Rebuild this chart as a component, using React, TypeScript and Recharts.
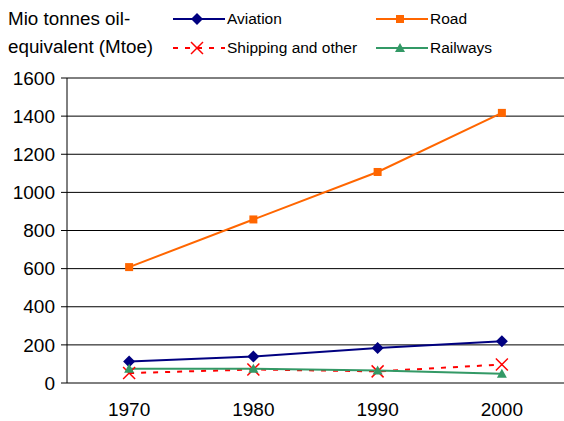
import React from "react";
import { LineChart, Line, XAxis, YAxis, CartesianGrid } from "recharts";

const years = [1970, 1980, 1990, 2000];
const aviation = [113, 139, 183, 219];
const road = [608, 858, 1107, 1417];
const shipping = [52, 71, 61, 97];
const railways = [75, 75, 66, 49];
const yTicks = [0, 200, 400, 600, 800, 1000, 1200, 1400, 1600];
const boundaryTicks = [1965, 1975, 1985, 1995, 2005];

const data = years.map((year, i) => ({
  year,
  aviation: aviation[i],
  road: road[i],
  shipping: shipping[i],
  railways: railways[i],
}));

const FONT = "Liberation Sans, Arial, sans-serif";

const series = [
  { key: "aviation", name: "Aviation", color: "#000080", shape: "diamond" },
  { key: "road", name: "Road", color: "#FF6600", shape: "square" },
  { key: "shipping", name: "Shipping and other", color: "#FF0000", shape: "cross", dash: "5 7" },
  { key: "railways", name: "Railways", color: "#339966", shape: "triangle" },
];

function Marker({ shape, color, cx, cy }: { shape: string; color: string; cx: number; cy: number }) {
  if (shape === "diamond") {
    return <polygon points={`${cx},${cy - 6} ${cx + 6},${cy} ${cx},${cy + 6} ${cx - 6},${cy}`} fill={color} />;
  }
  if (shape === "square") {
    return <rect x={cx - 4} y={cy - 4} width={8} height={8} fill={color} />;
  }
  if (shape === "triangle") {
    return <polygon points={`${cx},${cy - 5} ${cx + 5},${cy + 4} ${cx - 5},${cy + 4}`} fill={color} />;
  }
  return (
    <g stroke={color} strokeWidth={1.5}>
      <line x1={cx - 6} y1={cy - 6} x2={cx + 6} y2={cy + 6} />
      <line x1={cx - 6} y1={cy + 6} x2={cx + 6} y2={cy - 6} />
    </g>
  );
}

// legend + unit title drawn over the top of the chart
function LegendBox() {
  const item = (s: (typeof series)[number], left: number, top: number) => (
    <div key={s.key} style={{ position: "absolute", left, top, display: "flex", alignItems: "center", height: 20 }}>
      <svg width={52} height={14}>
        <line x1={0} y1={7} x2={52} y2={7} stroke={s.color} strokeWidth={2} strokeDasharray={s.dash} />
        <Marker shape={s.shape} color={s.color} cx={24} cy={7} />
      </svg>
      <span style={{ fontSize: 15.5, fontFamily: FONT, marginLeft: 2, color: "#000" }}>{s.name}</span>
    </div>
  );
  return (
    <div style={{ position: "absolute", left: 0, top: 0, width: 564, height: 60 }}>
      <div style={{ position: "absolute", left: 8, top: 5, fontSize: 18.8, lineHeight: "28px", fontFamily: FONT }}>
        Mio tonnes oil-
        <br />
        equivalent (Mtoe)
      </div>
      {item(series[0], 173, 9)}
      {item(series[1], 376, 9)}
      {item(series[2], 173, 38)}
      {item(series[3], 376, 38)}
    </div>
  );
}

export default function App() {
  return (
    <div style={{ position: "absolute", left: 0, top: 0, width: 564, height: 421, background: "#fff" }}>
      <LineChart width={564} height={421} data={data} margin={{ top: 78, right: 0, left: 10, bottom: 8 }}>
        <CartesianGrid vertical={false} stroke="#000" strokeWidth={1} />
        <XAxis
          xAxisId="b"
          dataKey="year"
          type="number"
          domain={[1965, 2005]}
          ticks={boundaryTicks}
          height={0}
          axisLine={{ stroke: "#000" }}
          tickLine={{ stroke: "#000" }}
          tickSize={6}
          tickFormatter={() => ""}
        />
        <XAxis
          dataKey="year"
          type="number"
          domain={[1965, 2005]}
          ticks={years}
          height={30}
          axisLine={false}
          tickLine={false}
          tickMargin={14}
          tick={{ fill: "#000", fontSize: 19, fontFamily: FONT }}
        />
        <YAxis
          domain={[0, 1600]}
          ticks={yTicks}
          width={57}
          axisLine={{ stroke: "#000" }}
          tickLine={{ stroke: "#000" }}
          tickSize={6}
          tickMargin={6}
          tick={{ fill: "#000", fontSize: 19, fontFamily: FONT }}
        />
        {series.map((s) => (
          <Line
            key={s.key}
            dataKey={s.key}
            name={s.name}
            stroke={s.color}
            strokeWidth={2}
            strokeDasharray={s.dash}
            isAnimationActive={false}
            dot={(p: any) => <Marker key={`${s.key}-${p.index}`} shape={s.shape} color={s.color} cx={p.cx} cy={p.cy} />}
            activeDot={false}
          />
        ))}
      </LineChart>
      <LegendBox />
    </div>
  );
}
